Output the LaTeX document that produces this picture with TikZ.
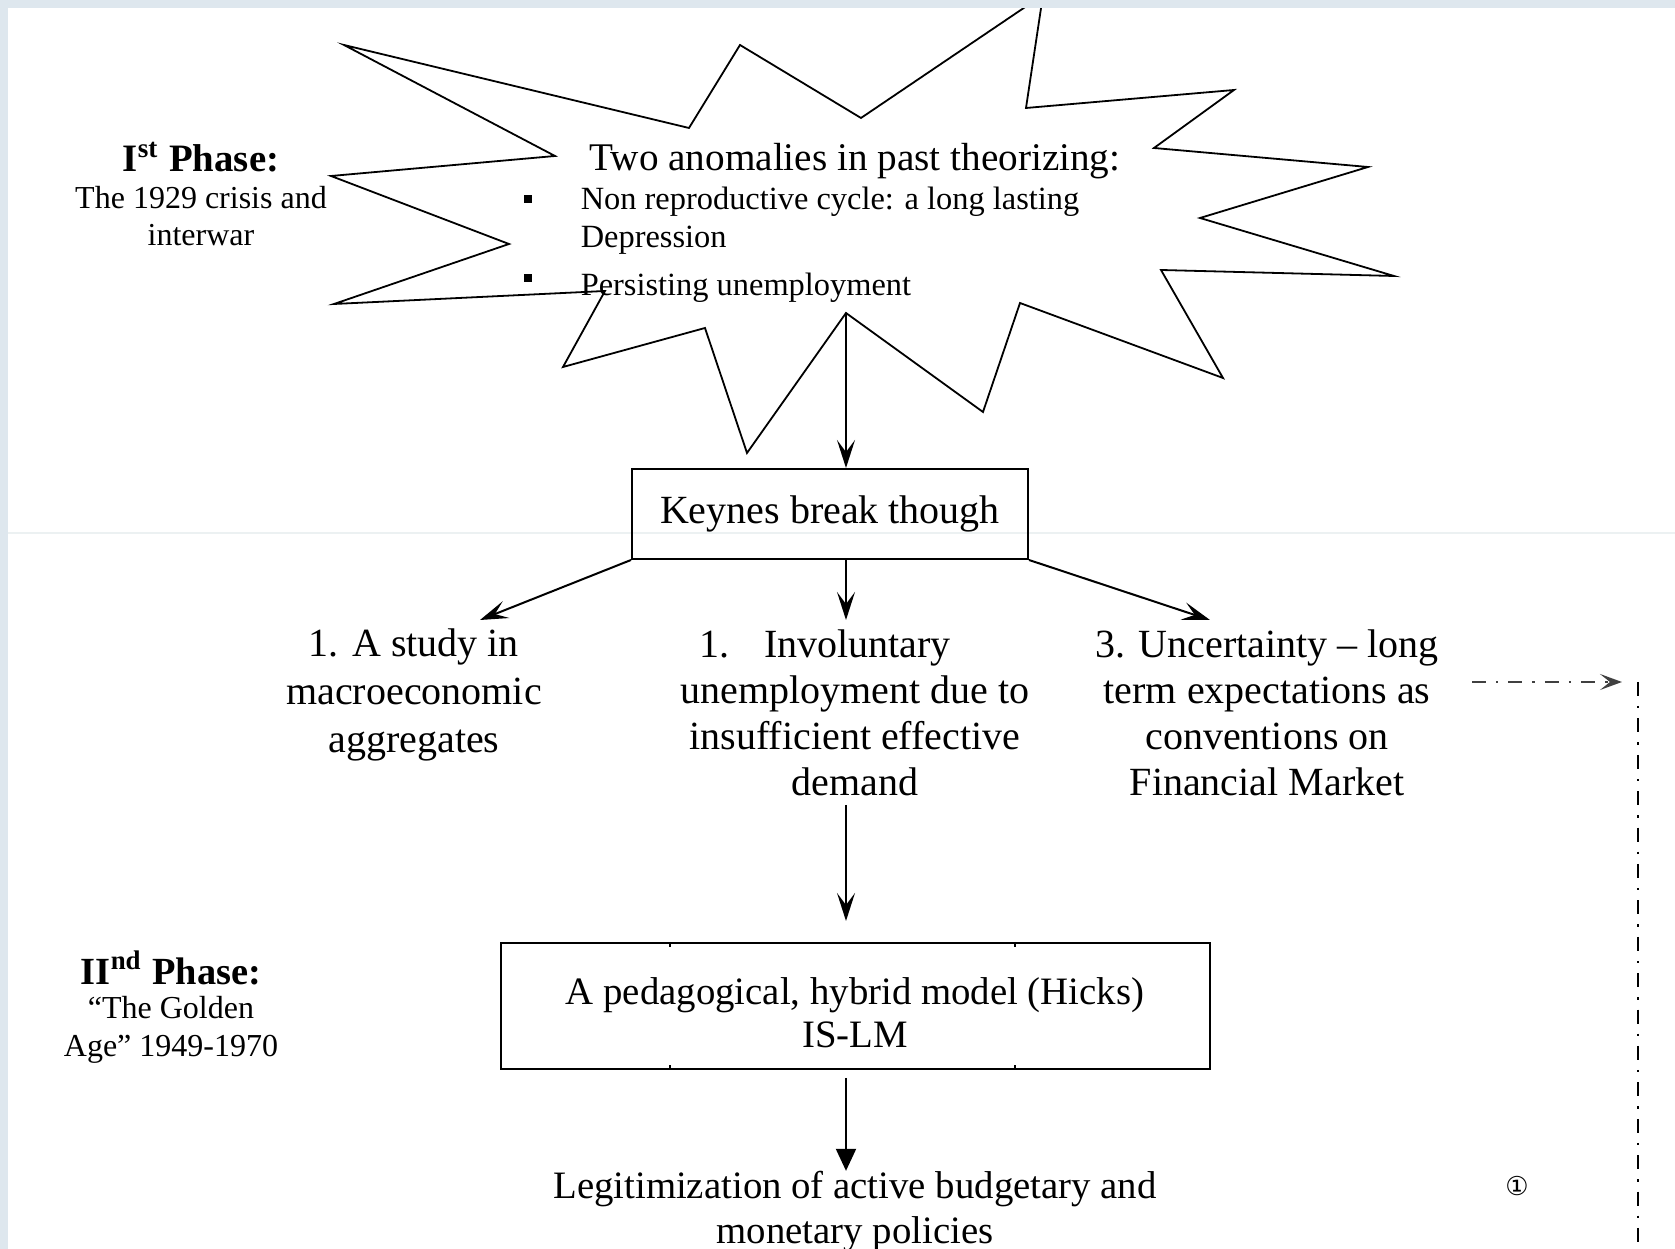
\documentclass[tikz,border=0pt]{standalone}
\usepackage{fontspec}
\setmainfont{Liberation Serif}
\newfontfamily\symfont{DejaVu Sans}
\usetikzlibrary{arrows.meta}

\definecolor{frame}{RGB}{222,231,238}
\definecolor{faint}{RGB}{236,241,242}

\begin{document}
\begin{tikzpicture}[x=0.25pt,y=-0.25pt,
  txt/.style={inner sep=0pt, align=center},
  body/.style={font=\fontsize{10}{11.5}\selectfont},
  small/.style={font=\fontsize{8}{9.3}\selectfont},
  head/.style={font=\bfseries\fontsize{9.7}{12}\selectfont},
  box/.style={draw, line width=0.5pt, inner sep=0pt, align=center},
  bullet/.style={fill=black, inner sep=0pt, minimum size=2pt},
  starline/.style={line width=0.45pt},
  arr/.style={line width=0.5pt, -{Stealth[length=7pt,width=4.5pt,inset=3pt]}},
  arrbig/.style={line width=0.5pt, -{Triangle[length=5.5pt,width=5pt]}},
  dashdot/.style={dash pattern=on 3.5pt off 2.5pt on 0.6pt off 2.5pt}
]
\useasboundingbox (0,0) rectangle (1675,1249);

% faint scan line across the page
\draw[faint, line width=0.3pt] (8,533) -- (1675,533);

% explosion outline around the first phase
\draw[starline] (344,45) -- (689,128) -- (740,45) -- (861,118) -- (1043,-5)
  -- (1026,108) -- (1234,90) -- (1154,148) -- (1368,167) -- (1200,218)
  -- (1394,276) -- (1161,270) -- (1223,378) -- (1020,303) -- (983,412)
  -- (846,313) -- (747,453) -- (705,328) -- (563,367) -- (605,291)
  -- (334,304) -- (509,244) -- (331,176) -- (555,156) -- cycle;
\coordinate (sv) at (846,313);
\coordinate (axis) at (846,0);

% phase labels
\node[txt, head] (ph1) at (201,157) {I\textsuperscript{st} Phase:};
\node[txt, small] (ph1d) at (201,216) {The 1929 crisis and\\interwar};
\node[txt, head, font=\bfseries\fontsize{9.6}{12}\selectfont] (ph2) at (171,968) {II\textsuperscript{nd} Phase:};
\node[txt, font=\fontsize{8}{9.4}\selectfont] (ph2d) at (171,1030) {“The Golden\\Age” 1949-1970};

% contents of the explosion
\node[txt, font=\fontsize{9.8}{12}\selectfont] (anom) at (855,161) {Two anomalies in past theorizing:};
\node[bullet] (bA) at (528,199) {};
\node[bullet] (bB) at (528,278) {};
\node[txt, align=left, anchor=west, font=\fontsize{8.1}{9.6}\selectfont] (itemA) at (580,221)
  {Non reproductive cycle: a long lasting\\Depression};
\node[txt, anchor=west, font=\fontsize{8.1}{9.6}\selectfont] (itemB) at (580,288)
  {Persisting unemployment};

% Keynes box and its three results
\node[box, body, minimum width=99pt, minimum height=22.5pt] (keynes) at (830,514) {Keynes break though};
\node[txt, font=\fontsize{10}{12}\selectfont] (study) at (414,695) {1. A study in\\macroeconomic\\aggregates};
\node[txt, body] (invol) at (855,713)
  {1.\hspace{8.75pt}Involuntary\hspace*{15pt}\\unemployment due to\\insufficient effective\\demand};
\node[txt, body] (uncert) at (1267,713)
  {3. Uncertainty -- long\\term expectations as\\conventions on\\Financial Market};

\coordinate (tipA) at (480,620);
\coordinate (tipB) at (846,620);
\coordinate (tipC) at (1210,620);
\coordinate (hicksIn) at (846,921);

\draw[arr] (sv) -- (sv |- keynes.north);
\draw[arr] (keynes.south west) -- (tipA);
\draw[arr] (keynes.south -| axis) -- (tipB);
\draw[arr] (keynes.south east) -- (tipC);
\draw[arr, shorten <=2pt] (invol.south -| axis) -- (hicksIn);

% second phase
\node[box, minimum width=177.25pt, minimum height=31.5pt] (hicks) at (855.5,1006) {};
\node[txt, font=\fontsize{9.7}{10.75}\selectfont] (hicksText) at (855,1013)
  {A pedagogical, hybrid model (Hicks)\\IS-LM};
\coordinate (tickL) at (670,0);
\coordinate (tickR) at (1015,0);
\draw[line width=0.4pt] (hicks.north -| tickL) -- ++(0,5) (hicks.north -| tickR) -- ++(0,5);
\draw[line width=0.4pt] (hicks.south -| tickL) -- ++(0,-5) (hicks.south -| tickR) -- ++(0,-5);

\node[txt, font=\fontsize{9.7}{11.25}\selectfont] (legit) at (855,1212)
  {Legitimization of active budgetary and\\monetary policies};
\draw[arrbig, shorten <=2pt] (hicks.south -| axis) -- (legit.north -| axis);

% note marker and dash-dot return path
\node[txt, font=\symfont\fontsize{6.5}{7}\selectfont] (note) at (1517,1186) {①};
\coordinate (dashS) at (1472,682);
\coordinate (dashE) at (1622,682);
\coordinate (railT) at (1638,682);
\coordinate (railB) at (1638,1262);
\draw[dashdot, line width=0.45pt, black!75, -{Stealth[length=5.5pt,width=4pt,inset=2.5pt]}] (dashS) -- (dashE);
\draw[dashdot, line width=0.7pt] (railT) -- (railB);

% page frame strips
\fill[frame] (0,0) rectangle (1675,8);
\fill[frame] (0,0) rectangle (8,1249);
\end{tikzpicture}
\end{document}
